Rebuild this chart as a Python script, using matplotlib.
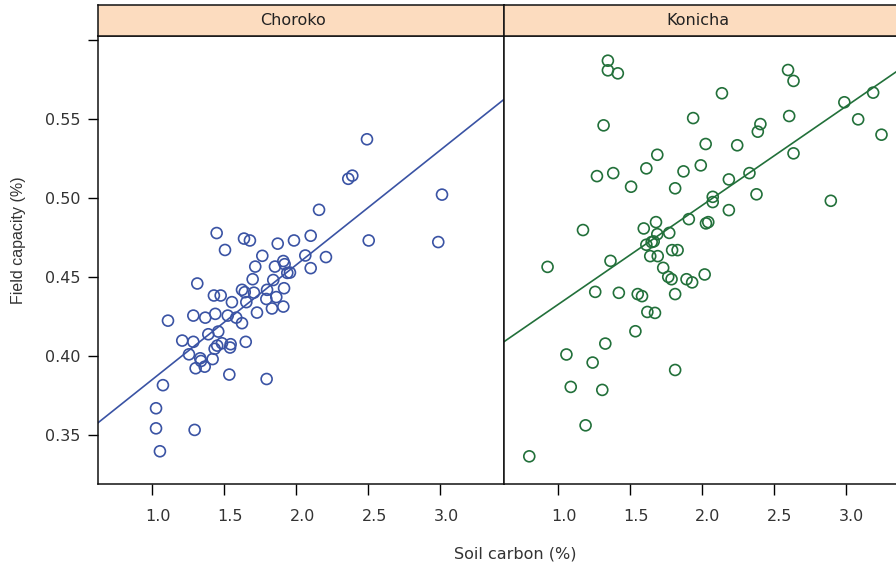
import numpy as np
import matplotlib.pyplot as plt
import matplotlib.transforms as mtransforms

plt.rcParams['font.family'] = ['DejaVu Sans']
plt.rcParams['font.size'] = 11.5

# soil carbon (%) vs field capacity (%)
choroko_x = [2.491, 3.012, 2.361, 2.389, 2.158, 2.986, 2.503, 2.100, 1.984, 2.0625,
             2.206, 2.100, 1.956, 1.447, 1.505, 1.637, 1.678, 1.871, 1.764, 1.715,
             1.852, 1.910, 1.919, 1.9375, 1.3125, 1.697, 1.840, 1.428, 1.475, 1.623,
             1.642, 1.706, 1.797, 1.915, 1.792, 1.861, 1.653, 1.553, 1.831, 1.910,
             1.727, 1.109, 1.285, 1.368, 1.4375, 1.524, 1.583, 1.623, 1.458, 1.389,
             1.208, 1.285, 1.255, 1.433, 1.451, 1.484, 1.544, 1.540, 1.649, 1.333,
             1.338, 1.419, 1.301, 1.364, 1.535, 1.794, 1.074, 1.026, 1.026, 1.294,
             1.053]
choroko_y = [0.537, 0.502, 0.512, 0.514, 0.4924, 0.472, 0.473, 0.476, 0.473, 0.4635,
             0.4625, 0.4555, 0.4527, 0.4777, 0.467, 0.4742, 0.473, 0.471, 0.4633, 0.4565,
             0.4565, 0.460, 0.458, 0.4525, 0.4458, 0.4485, 0.448, 0.4382, 0.4382, 0.4418,
             0.4403, 0.440, 0.4418, 0.4428, 0.436, 0.4372, 0.434, 0.434, 0.430, 0.4312,
             0.4274, 0.4223, 0.4255, 0.4242, 0.4266, 0.4255, 0.4242, 0.4207, 0.4154, 0.4137,
             0.4097, 0.4089, 0.401, 0.4045, 0.4065, 0.408, 0.4074, 0.4053, 0.4089, 0.3985,
             0.3968, 0.398, 0.3922, 0.3932, 0.3882, 0.3854, 0.3815, 0.3669, 0.3542, 0.3532,
             0.3397]

konicha_x = [1.348, 1.348, 1.417, 1.940, 1.318, 2.027, 1.691, 1.615, 1.993, 1.873,
             1.272, 1.385, 1.509, 1.815, 1.910, 2.029, 2.045, 1.175, 1.597, 1.682,
             1.691, 1.774, 1.615, 1.652, 1.666, 1.794, 1.832, 1.642, 1.694, 1.366,
             0.929, 1.732, 1.767, 1.790, 1.894, 1.933, 2.020, 1.260, 1.424, 1.555,
             1.585, 1.815, 1.622, 1.675, 1.539, 1.330, 1.060, 1.242, 1.815, 1.090,
             1.309, 1.193, 0.802, 2.599, 2.637, 2.140, 2.990, 3.190, 3.086, 3.248,
             2.407, 2.389, 2.607, 2.246, 2.637, 2.331, 2.188, 2.380, 2.896, 2.076,
             2.076, 2.188]
konicha_y = [0.5867, 0.5806, 0.5787, 0.5504, 0.5458, 0.534, 0.5272, 0.5186, 0.5205, 0.5167,
             0.5137, 0.5156, 0.507, 0.506, 0.4865, 0.4838, 0.4846, 0.4796, 0.4806, 0.4846,
             0.477, 0.4778, 0.4703, 0.472, 0.4724, 0.4669, 0.4669, 0.4631, 0.4631, 0.4601,
             0.4563, 0.4557, 0.450, 0.4485, 0.4485, 0.4465, 0.4515, 0.4405, 0.4399, 0.4391,
             0.4378, 0.4391, 0.4278, 0.4272, 0.4156, 0.4078, 0.4009, 0.3958, 0.3911, 0.3804,
             0.3785, 0.3561, 0.3365, 0.5808, 0.5739, 0.5661, 0.5604, 0.5665, 0.5496, 0.5399,
             0.5466, 0.5418, 0.5517, 0.5332, 0.5281, 0.5156, 0.5116, 0.5022, 0.4981, 0.5006,
             0.4973, 0.4922]

Panels = ['Choroko', 'Konicha']
Data = [(choroko_x, choroko_y), (konicha_x, konicha_y)]
Colors = ['#3a53a4', '#22703a']
x_ticks = [1.0, 1.5, 2.0, 2.5, 3.0]
y_ticks = [0.35, 0.40, 0.45, 0.50, 0.55, 0.60]

W, H = 896, 568
fig = plt.figure(figsize=(W / 100, H / 100), dpi=100)

panel_left = [98, 503.5]
panel_w = 405.5
top, bottom = 35.7, 484
strip_top = 5

for i in range(2):
    ax = fig.add_axes([panel_left[i] / W, 1 - bottom / H, panel_w / W, (bottom - top) / H])
    x = np.array(Data[i][0])
    y = np.array(Data[i][1])
    ax.scatter(x, y, s=62, facecolors='none', edgecolors=Colors[i], linewidths=1.2, zorder=3)

    # least-squares line across the panel
    b, a = np.polyfit(x, y, 1)
    xl = np.array([0.5, 3.6])
    ax.plot(xl, a + b * xl, color=Colors[i], lw=1.2, zorder=2)

    ax.set_xlim(0.623, 3.439)
    ax.set_ylim(0.319, 0.6025)
    ax.set_xticks(x_ticks)
    ax.set_xticklabels([f'{t:.1f}' for t in x_ticks], color='#333333')
    ax.tick_params(axis='x', direction='out', length=8, width=1, pad=10)
    if i == 0:
        ax.set_yticks(y_ticks)
        ax.set_yticklabels([f'{t:.2f}' for t in y_ticks[:-1]] + [''], color='#333333')
        ax.tick_params(axis='y', direction='out', length=7.5, width=1, pad=5)
    else:
        ax.set_yticks([])
    for sp in ax.spines.values():
        sp.set_linewidth(1.1)
        sp.set_color('#111111')
    offset = mtransforms.ScaledTranslation(6 / 100, 0, fig.dpi_scale_trans)
    for lab in ax.get_xticklabels():
        lab.set_transform(lab.get_transform() + offset)

    # strip on top
    sax = fig.add_axes([panel_left[i] / W, 1 - top / H, panel_w / W, (top - strip_top) / H])
    sax.set_facecolor('#fcdcbf')
    sax.set_xticks([])
    sax.set_yticks([])
    for sp in sax.spines.values():
        sp.set_linewidth(1.1)
        sp.set_color('#111111')
    sax.text(0.5 - 8 / panel_w, 0.5, Panels[i], ha='center', va='center',
             color='#222222', transform=sax.transAxes)

fig.text(515 / W, 1 - 554 / H, 'Soil carbon (%)', ha='center', va='center',
         color='#333333')
fig.text(18 / W, 1 - 240 / H, 'Field capacity (%)', ha='center', va='center',
         rotation=90, color='#333333', family=['Liberation Sans', 'DejaVu Sans'])

plt.savefig('out.png', dpi=100)
